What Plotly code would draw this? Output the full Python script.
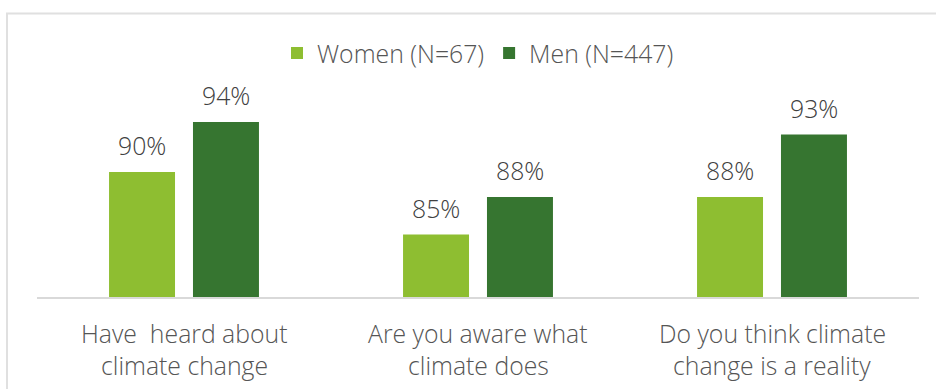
import plotly.graph_objects as go

# Survey results by gender
categories = ["Have  heard about climate change",
              "Are you aware what climate does",
              "Do you think climate change is a reality"]
label_line1 = ["Have  heard about", "Are you aware what", "Do you think climate"]
label_line2 = ["climate change", "climate does", "change is a reality"]
women = [90, 85, 88]
men = [94, 88, 93]
series_names = ["Women (N=67)", "Men (N=447)"]

WOMEN_COLOR = "#8EBE31"
MEN_COLOR = "#367530"
TEXT_COLOR = "#555555"
VALUE_COLOR = "#404040"
FONT = "Open Sans"
FS = 24.8
WEIGHT = 300

x_idx = list(range(len(categories)))

fig = go.Figure()
fig.add_trace(go.Bar(x=x_idx, y=women, name=series_names[0],
                     marker=dict(color=WOMEN_COLOR, line=dict(width=0))))
fig.add_trace(go.Bar(x=x_idx, y=men, name=series_names[1],
                     marker=dict(color=MEN_COLOR, line=dict(width=0))))

annotations = []
# value labels above each bar
offset = 0.143
for i, (w, m) in enumerate(zip(women, men)):
    for xv, v in ((i - offset, w), (i + offset, m)):
        annotations.append(dict(x=xv, y=v, xref="x", yref="y", text=f"{v}%",
                                showarrow=False, yanchor="middle", yshift=27,
                                font=dict(family=FONT, size=FS, color=VALUE_COLOR,
                                          weight=WEIGHT)))
# two-line category labels
for i in x_idx:
    annotations.append(dict(x=i, y=0, xref="x", yref="paper", text=label_line1[i],
                            showarrow=False, yanchor="middle", yshift=-36,
                            font=dict(family=FONT, size=FS, color=TEXT_COLOR,
                                      weight=WEIGHT)))
    annotations.append(dict(x=i, y=0, xref="x", yref="paper", text=label_line2[i],
                            showarrow=False, yanchor="middle", yshift=-68,
                            font=dict(family=FONT, size=FS, color=TEXT_COLOR,
                                      weight=WEIGHT)))

W, H = 936, 389
plot_l, plot_r, plot_t, plot_b = 37, 919, 47, 297
pw, ph = plot_r - plot_l, plot_b - plot_t

def px_x(p):
    return (p - plot_l) / pw

def px_y(p):
    return (plot_b - p) / ph

shapes = [dict(type="rect", xref="paper", yref="paper",
               x0=px_x(7), x1=px_x(950), y0=px_y(400), y1=px_y(13.5),
               line=dict(color="#E0E0E0", width=2), fillcolor="rgba(0,0,0,0)",
               layer="below")]

fig.update_layout(
    width=W, height=H,
    margin=dict(l=plot_l, r=W - plot_r, t=plot_t, b=H - plot_b),
    paper_bgcolor="white", plot_bgcolor="white",
    barmode="group", bargap=0.429, bargroupgap=0.214,
    font=dict(family=FONT, size=FS, color=TEXT_COLOR),
    showlegend=True,
    legend=dict(orientation="h", x=px_x(478), xanchor="center",
                y=px_y(53.5), yanchor="middle",
                font=dict(family=FONT, size=FS, color=TEXT_COLOR, weight=WEIGHT),
                itemsizing="constant", bgcolor="rgba(0,0,0,0)"),
    xaxis=dict(range=[-0.5, 2.5], showticklabels=False, showgrid=False,
               zeroline=False, showline=True, linecolor="#D9D9D9", linewidth=2,
               ticks=""),
    yaxis=dict(range=[80, 100], visible=False, showgrid=False, zeroline=False),
    annotations=annotations,
    shapes=shapes,
)

fig.write_html("out.html")
